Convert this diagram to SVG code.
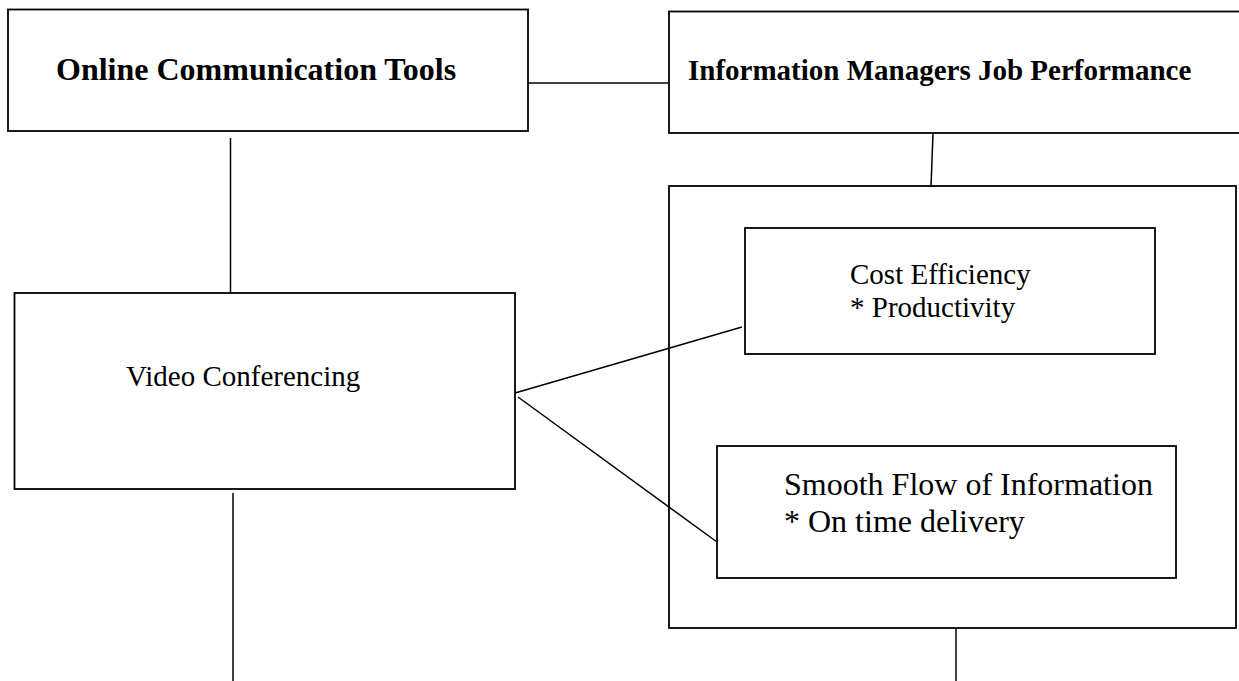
<svg xmlns="http://www.w3.org/2000/svg" width="1239" height="681" viewBox="0 0 1239 681">
<style>
.box{fill:none;stroke:#000;stroke-width:1.8}
.ln{fill:none;stroke:#000;stroke-width:1.5}
.t{font-family:"Liberation Serif","Times New Roman",serif;fill:#000}
.b{font-weight:bold}
</style>
<rect x="0" y="0" width="1239" height="681" fill="#fff"/>
<g id="connectors">
<line class="ln" x1="528" y1="83" x2="669" y2="83"/>
<line class="ln" x1="933" y1="133" x2="931" y2="187"/>
<line class="ln" x1="230.5" y1="138" x2="230.5" y2="293"/>
<line class="ln" x1="233" y1="493" x2="233" y2="681"/>
<line class="ln" x1="515" y1="393" x2="742" y2="327"/>
<line class="ln" x1="518" y1="397" x2="717" y2="542"/>
<line class="ln" x1="956" y1="628" x2="956" y2="681"/>
</g>
<g id="online-tools">
<rect class="box" x="8" y="9.5" width="520" height="121.5"/>
<text class="t b" x="56" y="80" font-size="32">Online Communication Tools</text>
</g>
<g id="job-performance">
<rect class="box" x="669" y="11.5" width="580" height="121.5"/>
<text class="t b" x="688" y="80" font-size="29">Information Managers Job Performance</text>
</g>
<g id="performance-group">
<rect class="box" x="669" y="186" width="567" height="442"/>
</g>
<g id="cost-efficiency">
<rect class="box" x="745" y="228" width="410" height="126"/>
<text class="t" x="850" y="284" font-size="29">Cost Efficiency</text>
<text class="t" x="850" y="317" font-size="29">* Productivity</text>
</g>
<g id="smooth-flow">
<rect class="box" x="717" y="446" width="459" height="132"/>
<text class="t" x="784" y="495" font-size="32">Smooth Flow of Information</text>
<text class="t" x="784" y="532" font-size="32">* On time delivery</text>
</g>
<g id="video-conferencing">
<rect class="box" x="14.5" y="293" width="500.5" height="196"/>
<text class="t" x="126" y="386" font-size="29">Video Conferencing</text>
</g>
</svg>
